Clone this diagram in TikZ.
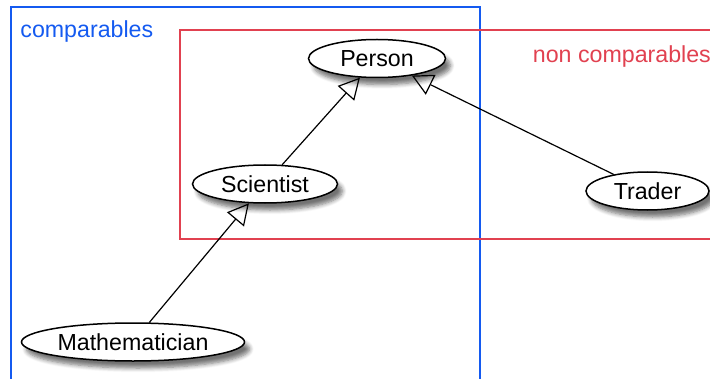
\documentclass[tikz,border=0pt]{standalone}
\usepackage{fontspec}
\setmainfont{Liberation Sans}
\usetikzlibrary{shapes.geometric,arrows.meta,shadows.blur}
\definecolor{compblue}{RGB}{20,90,240}
\definecolor{noncompred}{RGB}{225,65,80}
\begin{document}
\begin{tikzpicture}[x=0.5pt,y=-0.5pt,
    main/.style={draw,ellipse,fill=white,line width=0.75pt,inner sep=0pt,minimum height=19pt,
      blur shadow={shadow xshift=2.5pt,shadow yshift=-3.5pt,shadow blur steps=6,shadow opacity=55}},
    isa/.style={-{Triangle[open,length=10.5pt,width=11pt]},line width=0.6pt},
    lbl/.style={font=\fontsize{11.6}{14}\selectfont,inner sep=0pt,anchor=base west}]
                \useasboundingbox (0,0) rectangle (710,379);
                \clip (0,0) rectangle (710,379);
                \draw[compblue,line width=0.7pt](11,7) rectangle (480,400);
                \draw[noncompred,line width=0.7pt](180,30) rectangle (730,239);
                \node[lbl,text=compblue](comp) at (20,37.5){comparables};
                \node[lbl,text=noncompred](noncomp) at (532.5,62.5){non comparables};
                \node[main,minimum width=68.5pt](person) at (377,58.5){\fontsize{11.6}{14}\selectfont Person};
                \node[main,minimum width=72.5pt](scientist) at (265,184){\fontsize{11.6}{14}\selectfont Scientist};
                \node[main,minimum width=61.5pt](trader) at (647.5,191){\fontsize{11.6}{14}\selectfont Trader};
                \node[main,minimum width=111.5pt](mathematician) at (133,342){\fontsize{11.6}{14}\selectfont Mathematician};
                \draw[isa](scientist) -- (person);
                \draw[isa](trader) -- (person);
                \draw[isa](mathematician) -- (scientist);
            \end{tikzpicture}
\end{document}
